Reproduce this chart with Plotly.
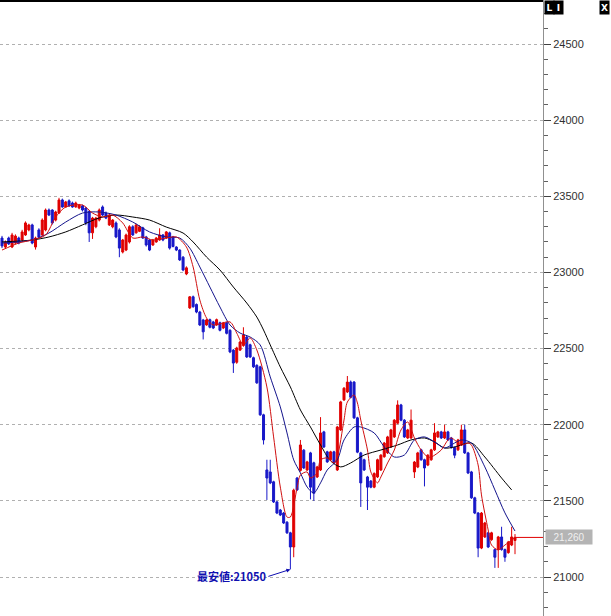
import plotly.graph_objects as go

# ---- candle data (index = bar number) ----
opens = [23226,23167,23226,23167,23193,23226,23213,23246,23279,23312,23167,23279,23246,23279,23410,23410,23344,23390,23476,23430,
         23470,23456,23430,23423,23437,23423,23400,23260,23300,23344,23430,23390,23312,23300,23325,23279,23134,23147,23200,23300,
         23260,23270,23293,23233,23213,23180,23200,23213,23246,23226,23260,23233,23167,23147,23100,22990,22767,22840,22790,22740,
         22688,22655,22690,22675,22655,22670,22635,22670,22620,22490,22410,22490,22520,22576,22525,22440,22390,22380,22065,21703,
         21690,21625,21493,21440,21420,21360,21290,21197,21650,21700,21833,21703,21815,21750,21657,21703,21953,21822,21770,21822,
         21703,21966,22163,22215,22280,22280,22045,21815,21770,21657,21630,21590,21657,21703,21790,21815,21854,21920,22010,22130,
         22030,21913,21913,21690,21722,21835,21770,21735,21770,21835,21920,21953,21913,21953,21913,21850,21835,21868,21966,21815,
         21690,21520,21420,21190,21263,21290,21245,21180,21180,21263,21180,21160,21210,21240]
highs = [23240,23210,23235,23260,23250,23235,23280,23335,23320,23320,23235,23290,23355,23420,23420,23415,23405,23490,23485,23470,
         23480,23465,23465,23450,23445,23430,23410,23365,23365,23420,23440,23400,23385,23350,23335,23290,23220,23255,23310,23310,
         23320,23310,23300,23240,23220,23220,23232,23290,23252,23272,23268,23240,23172,23152,23108,23040,22845,22848,22796,22748,
         22695,22695,22697,22682,22697,22677,22675,22677,22627,22497,22512,22550,22640,22584,22532,22447,22397,22387,22072,21770,
         21770,21632,21500,21447,21427,21367,21297,21580,21657,21900,21840,21763,21822,21757,21730,22050,21960,21829,21829,21829,
         21992,22157,22247,22320,22290,22287,22052,21822,21777,21664,21637,21687,21777,21807,21887,21927,21973,22037,22160,22137,
         22037,21973,22100,21762,21822,21842,21777,21807,21842,22010,21960,21960,22000,21960,21920,21857,21907,22000,22000,21822,
         21697,21527,21427,21427,21362,21297,21297,21187,21270,21330,21187,21237,21330,21282]
lows = [23160,23160,23180,23160,23185,23185,23205,23240,23270,23185,23150,23225,23240,23270,23370,23315,23335,23385,23425,23425,
        23430,23425,23425,23415,23400,23310,23200,23220,23290,23335,23370,23350,23305,23290,23225,23100,23125,23140,23190,23240,
        23255,23265,23220,23170,23140,23175,23195,23208,23205,23220,23150,23165,23140,23075,23008,22982,22760,22768,22732,22648,
        22560,22650,22633,22628,22650,22613,22628,22593,22470,22340,22400,22484,22512,22438,22438,22373,22268,22058,21870,21506,
        21610,21486,21413,21400,21348,21283,21050,21130,21565,21692,21709,21696,21510,21500,21650,21696,21847,21749,21763,21743,
        21696,21959,22156,22208,22173,22038,21813,21460,21696,21440,21583,21583,21650,21696,21783,21808,21847,21913,22003,22023,
        21913,21906,21906,21650,21715,21763,21595,21728,21763,21828,21913,21906,21906,21893,21843,21780,21828,21861,21808,21676,
        21513,21413,21130,21183,21256,21190,21238,21060,21060,21173,21100,21153,21203,21150]
closes = [23174,23200,23187,23246,23239,23193,23266,23325,23312,23193,23226,23233,23344,23410,23377,23325,23397,23476,23430,23463,
          23437,23430,23456,23443,23410,23325,23260,23357,23357,23410,23377,23357,23377,23344,23233,23160,23213,23246,23300,23246,
          23312,23300,23226,23180,23147,23213,23226,23246,23213,23266,23160,23170,23147,23082,23016,23030,22840,22775,22740,22655,
          22610,22688,22640,22635,22690,22620,22668,22600,22478,22405,22504,22543,22590,22445,22445,22380,22275,22065,21900,21650,
          21618,21493,21420,21407,21355,21290,21197,21570,21572,21867,21716,21756,21590,21550,21723,21946,21854,21756,21822,21750,
          21985,22150,22240,22280,22180,22045,21820,21618,21703,21590,21590,21680,21770,21800,21880,21920,21966,22030,22130,22030,
          21920,21966,22030,21755,21815,21770,21716,21800,21835,21946,21953,21913,21953,21900,21850,21800,21900,21966,21815,21683,
          21520,21420,21190,21420,21355,21197,21290,21130,21263,21180,21130,21230,21263,21260]
bars = list(range(len(closes)))

# ---- moving-average lines (bar index, price) ----
ma_short_x = [0,5,9,13,16,19,24,27,30,33,36,39,42,45,49,52,55,57,59,61,63,68,70,72,74,76,79,81,83,85,86,88,89,91,92,94,95,97,99,100,
              102,103,105,106,107,109,110,112,113,115,117,119,121,123,125,127,128,131,133,134,137,139,140,142,143,145,146,148,150,152,153]
ma_short_y = [23147,23193,23213,23246,23364,23430,23443,23390,23364,23377,23325,23226,23233,23213,23226,23233,23167,23036,22819,22701,
              22655,22675,22602,22524,22570,22491,22248,21920,21591,21394,21394,21585,21670,21690,21650,21683,21769,21782,21749,21788,
              22031,22149,22195,22143,22031,21834,21690,21618,21657,21749,21834,21966,22018,21913,21834,21788,21788,21834,21900,21913,
              21867,21880,21867,21736,21539,21309,21210,21178,21210,21243,21263]
ma_mid_x = [0,9,14,19,24,29,34,39,44,49,53,56,59,62,65,68,71,74,77,80,83,85,87,89,91,93,95,97,100,102,105,107,111,114,117,120,123,126,
            129,132,135,137,140,144,147,150,153]
ma_mid_y = [23193,23213,23259,23331,23390,23397,23377,23331,23266,23233,23226,23160,23036,22904,22773,22655,22602,22576,22524,22314,
            22117,21946,21769,21683,21591,21552,21618,21703,21769,21900,21985,21985,21946,21854,21788,21801,21900,21920,21887,21847,
            21880,21900,21880,21723,21572,21421,21302]
ma_long_x = [0,9,14,19,24,29,34,39,44,49,54,57,61,65,69,73,76,78,80,83,86,89,92,95,98,101,104,108,113,118,122,126,129,132,135,140,
             144,149,152]
ma_long_y = [23200,23213,23233,23266,23312,23358,23377,23364,23344,23298,23259,23200,23101,23016,22904,22799,22707,22622,22524,22379,
             22248,22097,21985,21867,21762,21723,21749,21801,21834,21867,21900,21913,21887,21847,21854,21880,21788,21650,21572]

low_value = 21050
low_label = "最安値:21050"
last_label = "21,260"
y_ticks = [21000, 21500, 22000, 22500, 23000, 23500, 24000, 24500]

RED = "#e00000"
BLUE = "#1818c8"

fig = go.Figure()
fig.add_trace(go.Candlestick(
    x=bars, open=opens, high=highs, low=lows, close=closes,
    increasing=dict(line=dict(color=RED, width=1), fillcolor=RED),
    decreasing=dict(line=dict(color=BLUE, width=1), fillcolor=BLUE),
    whiskerwidth=0, showlegend=False, hoverinfo="skip"))
fig.add_trace(go.Scatter(x=ma_long_x, y=ma_long_y, mode="lines",
                         line=dict(color="#000000", width=1, shape="spline", smoothing=0.8),
                         showlegend=False, hoverinfo="skip"))
fig.add_trace(go.Scatter(x=ma_mid_x, y=ma_mid_y, mode="lines",
                         line=dict(color="#14148c", width=1, shape="spline", smoothing=0.8),
                         showlegend=False, hoverinfo="skip"))
fig.add_trace(go.Scatter(x=ma_short_x, y=ma_short_y, mode="lines",
                         line=dict(color="#d01010", width=1, shape="spline", smoothing=0.8),
                         showlegend=False, hoverinfo="skip"))

x_lo, x_hi = -0.6, 161.35
last_i = bars[-1]
# last price line to the axis
fig.add_shape(type="line", xref="x", yref="y", x0=last_i, x1=x_hi, y0=closes[-1], y1=closes[-1],
              line=dict(color=RED, width=1))
# top frame line
fig.add_shape(type="line", xref="paper", yref="paper", x0=0, x1=1, y0=1, y1=1,
              line=dict(color="#000000", width=4))

low_i = lows.index(min(lows))
fig.add_annotation(x=low_i, y=low_value, xref="x", yref="y", text="<b>" + low_label + "</b>",
                   showarrow=True, ax=-22, ay=7, xanchor="right", arrowhead=2, arrowsize=0.8,
                   arrowwidth=1, arrowcolor="#1010b0",
                   font=dict(family="Noto Sans CJK JP", size=11, color="#1010b0"))
fig.add_annotation(x=1, y=closes[-1], xref="paper", yref="y", text=last_label, showarrow=False,
                   xanchor="left", xshift=2, bgcolor="#b4b4b4", width=44, height=12,
                   font=dict(family="Liberation Sans", size=10, color="#f0f0f0"))
for txt, px in [("L", 549), ("I", 558), ("X", 604)]:
    fig.add_annotation(x=px / 543, y=1, xref="paper", yref="paper", text="<b>" + txt + "</b>",
                       showarrow=False, yanchor="top", xanchor="center", bgcolor="#000000",
                       width=7, height=11, font=dict(family="DejaVu Sans", size=9, color="#ffffff"))

fig.update_layout(
    width=611, height=616, margin=dict(l=0, r=68, t=0, b=0),
    paper_bgcolor="#ffffff", plot_bgcolor="#ffffff", boxgap=0.15,
    xaxis=dict(range=[x_lo, x_hi], visible=False, rangeslider=dict(visible=False)),
    yaxis=dict(range=[20744, 24789], side="right", tickvals=y_ticks, tickformat="d",
               showgrid=True, gridcolor="#b0b0b0", griddash="3px,3px", gridwidth=1,
               showline=True, linecolor="#909090", linewidth=1, zeroline=False,
               ticks="outside", ticklen=7, tickcolor="#404040",
               tickfont=dict(family="Liberation Sans", size=11, color="#303030"),
               minor=dict(dtick=100, tick0=21000, ticks="outside", ticklen=4, tickcolor="#606060", showgrid=False)),
)
fig.write_html("out.html", config={"displayModeBar": False},
               post_script="document.body.style.margin='0';document.body.style.overflow='hidden';")
